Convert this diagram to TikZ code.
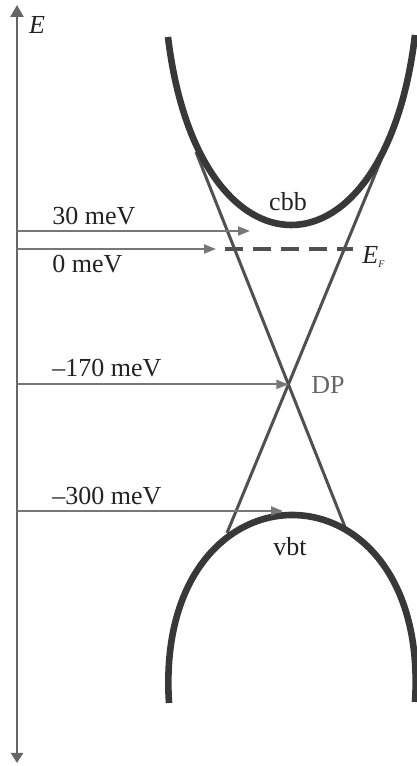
\documentclass[tikz,border=0pt]{standalone}
\usepackage{fontspec}
\setmainfont{Liberation Serif}
\usetikzlibrary{arrows.meta}

\definecolor{bandgray}{HTML}{383838}
\definecolor{conegray}{HTML}{505050}
\definecolor{levelgray}{HTML}{777777}
\definecolor{axisgray}{HTML}{666666}
\definecolor{textgray}{HTML}{222222}

\tikzset{
  band/.style={bandgray, line width=3.3pt},
  cone/.style={conegray, line width=1.5pt},
  fermi/.style={conegray, line width=2.3pt, dash pattern=on 9pt off 5pt},
  level/.style={levelgray, line width=1pt, -{Triangle[length=6pt,width=4.5pt]}},
  lbl/.style={anchor=west, inner sep=0pt, text=textgray, font=\fontsize{13}{15}\selectfont},
}

\begin{document}
\begin{tikzpicture}[x=0.5pt,y=0.5pt]
  \useasboundingbox (0,0) rectangle (417,766);

  % energy axis
  \coordinate (top) at (17,761);
  \coordinate (bot) at (17,3);
  \draw[axisgray, line width=1.2pt,
    {Triangle[length=5pt,width=6pt]}-{Triangle[length=6pt,width=6.5pt]}] (bot) -- (top);
  \node[lbl, anchor=center, font=\fontsize{13}{15}\selectfont\itshape] (E) at (37,741) {E};

  % Dirac cone
  \coordinate (dp) at (288.4,381.6);
  \coordinate (ul) at (196,614);
  \coordinate (lr) at (347,234);
  \coordinate (ur) at (388,623);
  \coordinate (ll) at (227,233);
  \draw[cone] (ul) -- (dp) -- (lr);
  \draw[cone] (ur) -- (dp) -- (ll);

  % conduction band bottom
  \draw[band] (168,729) .. controls (198,478) and (385,478) .. (415,731);
  \node[lbl, anchor=center] (cbb) at (288,564) {cbb};
  % valence band top
  \draw[band] (169,63) .. controls (153,313.5) and (431,313.5) .. (415,64);
  \node[lbl, anchor=center] (vbt) at (290,219) {vbt};

  % Fermi level
  \coordinate (efl) at (225,517);
  \coordinate (efr) at (353,517);
  \draw[fermi] (efl) -- (efr);
  \node[lbl] (EF) at (362,509) {\itshape E\textsubscript{\tiny\itshape F}};

  % energy levels
  \coordinate (l30) at (250,535);
  \coordinate (l0) at (216,517);
  \coordinate (l300) at (283,255);
  \draw[level] (top |- l30) -- (l30);
  \draw[level] (top |- l0) -- (l0);
  \draw[level] (top |- dp) -- (dp);
  \draw[level] (top |- l300) -- (l300);
  \node[lbl] (t30) at (52,550) {30 meV};
  \node[lbl] (t0) at (52,502) {0 meV};
  \node[lbl] (t170) at (52,398) {–170 meV};
  \node[lbl] (t300) at (52,270) {–300 meV};
  \node[lbl, text=axisgray] (DP) at (311,381) {DP};
\end{tikzpicture}
\end{document}
